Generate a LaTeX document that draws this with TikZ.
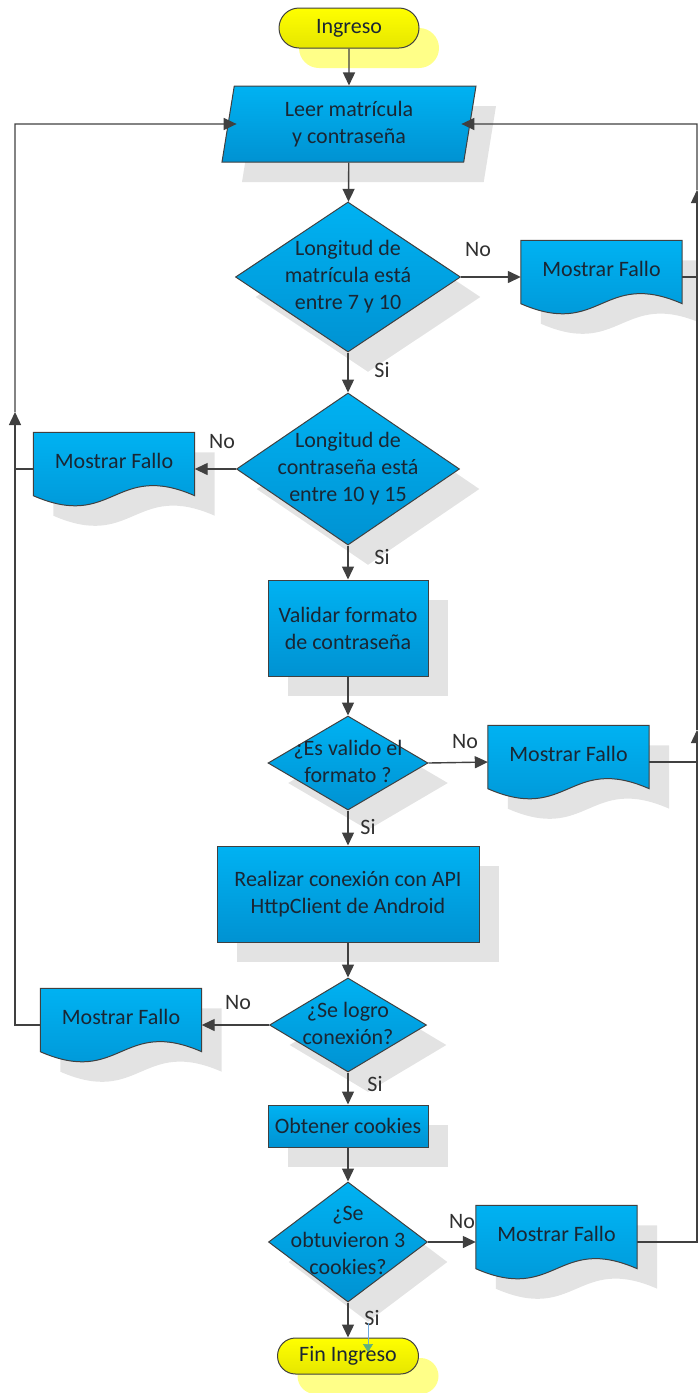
\documentclass[tikz,border=0pt]{standalone}
\usepackage{fontspec}
\setmainfont{Carlito}
\usetikzlibrary{shapes.geometric,shapes.misc,shadows,arrows.meta,calc}
\pgfdeclarelayer{bg}
\pgfsetlayers{bg,main}
\definecolor{blueT}{HTML}{00B2F2}
\definecolor{blueB}{HTML}{0092D2}
\definecolor{yelT}{HTML}{FFFF00}
\definecolor{yelB}{HTML}{E6E600}
\definecolor{yelS}{HTML}{FFFF88}
\definecolor{shad}{HTML}{E3E3E3}
\definecolor{edge}{HTML}{404040}
\definecolor{txt}{HTML}{1A2633}
\definecolor{lblc}{HTML}{303030}
\definecolor{gline}{HTML}{6FA8DC}
\definecolor{ghead}{HTML}{5FAF7F}
\newcommand\dtx[1]{\makebox[0pt]{\smash{\raisebox{-0.25em}{\begin{tabular}{@{}c@{}}#1\end{tabular}}}}}
\newcommand\docdraw[1]{%
  \begin{pgfonlayer}{bg}
    \fill[shad] ($(#1.north west)+(20,20)$) -- ($(#1.north east)+(20,20)$) -- ($(#1.south east)+(20,10)$)
      .. controls ($(#1.south east)+(-60,-25)$) and ($(#1.south west)+(100,45)$) .. ($(#1.south west)+(20,10)$) -- cycle;
    \shade[draw=edge, line width=1pt, top color=blueT, bottom color=blueB] (#1.north west) -- (#1.north east) -- ($(#1.south east)+(0,-10)$)
      .. controls ($(#1.south east)+(-80,-45)$) and ($(#1.south west)+(80,25)$) .. ($(#1.south west)+(0,-10)$) -- cycle;
  \end{pgfonlayer}}
\tikzset{
  txtfont/.style={font=\fontsize{22}{27}\selectfont},
  base/.style={draw=edge, line width=1pt, top color=blueT, bottom color=blueB, text=txt, txtfont, inner sep=0pt},
  sh/.style={drop shadow={shadow xshift=20pt, shadow yshift=-20pt, fill=shad, opacity=1}},
  procbox/.style={base, sh, rectangle, align=center},
  decbox/.style={base, sh, diamond},
  iobox/.style={base, sh, trapezium, trapezium left angle=75, trapezium right angle=105, trapezium stretches body=true, align=center},
  termbox/.style={base, rounded rectangle, top color=yelT, bottom color=yelB, align=center,
    drop shadow={shadow xshift=20pt, shadow yshift=-20pt, fill=yelS, opacity=1}},
  docbox/.style={rectangle, inner sep=0pt, text=txt, txtfont, minimum width=161pt, minimum height=73pt},
  conn/.style={draw=edge, line width=1.4pt, -{Triangle[length=13pt,width=12pt]}},
  plain/.style={draw=edge, line width=1.4pt},
  lab/.style={text=lblc, txtfont, inner sep=0pt},
}
\begin{document}
\begin{tikzpicture}[x=1pt,y=-1pt]
\useasboundingbox (0,0) rectangle (698,1393);
% nodes
\node[termbox, minimum width=140pt, minimum height=40pt] (T1) at (349,28) {Ingreso};
\node[iobox, minimum width=254pt, minimum height=76pt] (P) at (349,124) {Leer matrícula\\y contraseña};
\node[decbox, minimum width=225pt, minimum height=150pt] (D1) at (348,277) {\dtx{Longitud de\\matrícula está\\entre 7 y 10}};
\node[docbox] (MF1) at (601.5,277) {\raisebox{8pt}[\height][\depth]{Mostrar Fallo}};
\docdraw{MF1}
\node[decbox, minimum width=223pt, minimum height=152pt] (D2) at (348,469) {\dtx{Longitud de\\contraseña está\\entre 10 y 15}};
\node[docbox] (MF2) at (114,469) {\raisebox{8pt}[\height][\depth]{Mostrar Fallo}};
\docdraw{MF2}
\node[procbox, minimum width=160pt, minimum height=96pt] (R1) at (348,628) {Validar formato\\de contraseña};
\node[decbox, minimum width=160pt, minimum height=94pt] (D3) at (348,763) {\dtx{¿Es valido el\\formato ?}};
\node[docbox] (MF3) at (568.5,762) {\raisebox{8pt}[\height][\depth]{Mostrar Fallo}};
\docdraw{MF3}
\node[procbox, minimum width=262pt, minimum height=96pt] (R2) at (348,894) {Realizar conexión con API\\HttpClient de Android};
\node[decbox, minimum width=157pt, minimum height=94pt] (D4) at (348,1025) {\dtx{¿Se logro\\conexión?}};
\node[docbox] (MF4) at (121,1025) {\raisebox{8pt}[\height][\depth]{Mostrar Fallo}};
\docdraw{MF4}
\node[procbox, minimum width=160pt, minimum height=42pt] (R3) at (348,1126) {Obtener cookies};
\node[decbox, minimum width=159pt, minimum height=120pt] (D5) at (348,1242) {\dtx{¿Se\\obtuvieron 3\\cookies?}};
\node[docbox] (MF5) at (556.5,1242) {\raisebox{8pt}[\height][\depth]{Mostrar Fallo}};
\docdraw{MF5}
\node[termbox, minimum width=141pt, minimum height=36pt] (T2) at (348,1356) {Fin Ingreso};
% labels
\node[lab] (l1) at (478,250) {No};
\node[lab] (l2) at (382,370) {Si};
\node[lab] (l3) at (222,442) {No};
\node[lab] (l4) at (382,557) {Si};
\node[lab] (l5) at (465,742) {No};
\node[lab] (l6) at (368,827) {Si};
\node[lab] (l7) at (238,1003) {No};
\node[lab] (l8) at (375,1084) {Si};
\node[lab] (l9) at (462,1222) {No};
\node[lab] (l10) at (372,1318) {Si};
% main flow
\draw[conn] (T1) -- (P);
\draw[conn] (P) -- (D1);
\draw[conn] (D1) -- (D2);
\draw[conn] (D2) -- (R1);
\draw[conn] (R1) -- (D3);
\draw[conn] (D3) -- (R2);
\draw[conn] (R2) -- (D4);
\draw[conn] (D4) -- (R3);
\draw[conn] (R3) -- (D5);
\draw[conn] (D5) -- (T2);
% branches
\draw[conn] (D1.east) -- (MF1.west);
\draw[conn] (D2.west) -- (MF2.east);
\draw[conn] (D3.east) -- (MF3.west);
\draw[conn] (D4.west) -- (MF4.east);
\draw[conn] (D5.east) -- (MF5.west);
% right loop
\coordinate (ra) at (697,730);
\coordinate (rb) at (697,190);
\draw[conn] (MF5.east) -- (MF5.east -| ra) -- (ra);
\draw[plain] (MF3.east) -- (MF3.east -| ra);
\draw[conn] (ra) -- (rb);
\draw[plain] (MF1.east) -- (MF1.east -| ra);
\draw[conn] (rb) -- (rb |- P) -- ([xshift=-9pt]P.east);
% left loop
\coordinate (la) at (15,412);
\draw[conn] (MF4.west) -- (MF4.west -| la) -- (la);
\draw[plain] (MF2.west) -- (MF2.west -| la);
\draw[conn] (la) -- (la |- P) -- ([xshift=9pt]P.west);
% small stray connector near the end
\coordinate (g1) at (368,1323);
\coordinate (g2) at (368,1352);
\draw[draw=gline, line width=0.6pt, -{Triangle[length=8pt,width=10pt,fill=ghead,color=ghead]}] (g1) -- (g2);
\end{tikzpicture}
\end{document}
